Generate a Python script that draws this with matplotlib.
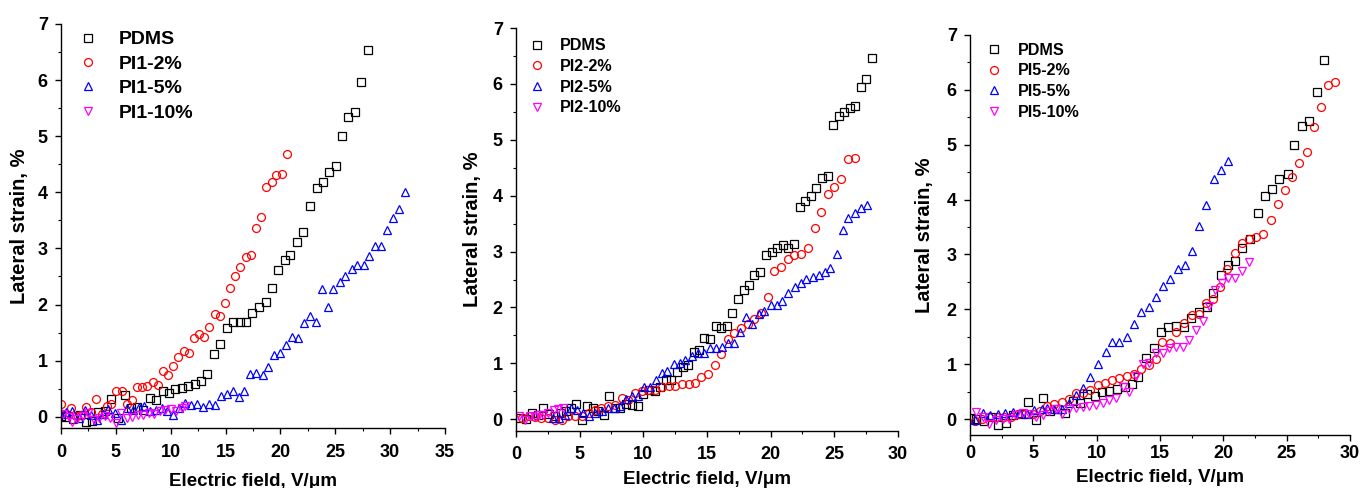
import matplotlib
matplotlib.use("Agg")
import matplotlib.pyplot as plt
from matplotlib.ticker import MultipleLocator

plt.rcParams['font.family'] = ['Liberation Sans', 'DejaVu Sans']
plt.rcParams['font.weight'] = 'bold'
plt.rcParams['axes.labelweight'] = 'bold'

# PDMS reference film (same sample shown in panels a and c)
pdms_x = [0.0, 0.5, 1.1, 1.7, 2.25, 2.85, 3.4, 4.0, 4.6, 5.2, 5.8, 6.35, 6.9, 7.5, 8.1, 8.7, 9.27,
          9.85, 10.4, 11.0, 11.6, 12.2, 12.8, 13.3, 13.9, 14.5, 15.1, 15.65, 16.3, 16.9, 17.45, 18.05,
          18.7, 19.2, 19.8, 20.4, 20.9, 21.5, 22.1, 22.7, 23.3, 23.86, 24.4, 25.08, 25.6, 26.2, 26.8,
          27.36, 27.96]
pdms_y = [0.02, 0.0, -0.04, 0.03, -0.1, -0.07, 0.08, 0.1, 0.32, -0.02, 0.38, 0.15, 0.18, 0.12, 0.33,
          0.30, 0.45, 0.42, 0.50, 0.51, 0.55, 0.59, 0.64, 0.77, 1.12, 1.30, 1.58, 1.68, 1.69, 1.68, 1.84,
          1.95, 2.04, 2.29, 2.62, 2.80, 2.88, 3.12, 3.29, 3.75, 4.07, 4.19, 4.37, 4.46, 5.0, 5.34, 5.43,
          5.96, 6.54]

# PI1 series
pi1_2_x = [0.0, 0.45, 0.9, 1.4, 1.85, 2.3, 2.75, 3.2, 3.7, 4.15, 4.6, 5.05, 5.55, 6.0, 6.47, 6.93, 7.4,
           7.87, 8.36, 8.85, 9.3, 9.79, 10.24, 10.7, 11.19, 11.67, 12.13, 12.58, 13.07, 13.5, 14.0, 14.47,
           14.95, 15.4, 15.87, 16.35, 16.84, 17.3, 17.8, 18.27, 18.7, 19.2, 19.6, 20.1, 20.58]
pi1_2_y = [0.22, 0.05, 0.15, 0.02, 0.03, 0.18, 0.08, 0.31, 0.05, 0.2, 0.23, 0.45, 0.46, 0.22, 0.29, 0.53,
           0.53, 0.55, 0.62, 0.57, 0.82, 0.74, 0.90, 1.07, 1.18, 1.14, 1.41, 1.48, 1.43, 1.60, 1.83, 1.79,
           2.03, 2.29, 2.51, 2.66, 2.85, 2.88, 3.36, 3.56, 4.09, 4.18, 4.30, 4.33, 4.69]
pi1_5_x = [0.0, 0.5, 1.05, 1.6, 2.15, 2.7, 3.25, 3.8, 4.3, 4.9, 5.45, 6.0, 6.55, 7.1, 7.6, 8.15, 8.7, 9.2,
           9.7, 10.2, 10.76, 11.3, 11.85, 12.4, 12.95, 13.5, 14.0, 14.56, 15.1, 15.65, 16.2, 16.7, 17.2,
           17.8, 18.4, 18.9, 19.45, 20.0, 20.5, 21.06, 21.6, 22.16, 22.7, 23.2, 23.77, 24.3, 24.83, 25.4,
           25.9, 26.5, 27.0, 27.57, 28.1, 28.6, 29.2, 29.7, 30.24, 30.8, 31.37]
pi1_5_y = [0.05, 0.08, 0.1, -0.02, 0.12, 0.03, -0.06, 0.05, 0.14, 0.06, -0.06, 0.15, 0.12, 0.18, 0.2, 0.1,
           0.12, 0.16, 0.1, 0.04, 0.16, 0.24, 0.21, 0.22, 0.17, 0.23, 0.21, 0.37, 0.40, 0.46, 0.36, 0.46,
           0.77, 0.78, 0.75, 0.89, 1.10, 1.13, 1.28, 1.43, 1.41, 1.67, 1.79, 1.68, 2.28, 1.95, 2.27, 2.41,
           2.51, 2.64, 2.71, 2.71, 2.86, 3.04, 3.05, 3.33, 3.55, 3.71, 4.0]
pi1_10_x = [0.2, 0.7, 1.0, 1.5, 2.0, 2.5, 3.0, 3.5, 4.0, 4.5, 5.05, 5.5, 6.0, 6.5, 7.0, 7.5, 8.0, 8.5,
            9.0, 9.5, 10.0, 10.5, 11.0, 11.3]
pi1_10_y = [0.05, 0.0, -0.1, -0.04, 0.02, 0.06, -0.05, -0.03, 0.02, -0.02, -0.12, 0.06, -0.02, 0.0, 0.03,
            0.04, 0.06, 0.05, 0.1, 0.12, 0.14, 0.1, 0.16, 0.19]

# PI2 series
pdms2_x = [0.3, 0.8, 1.23, 1.7, 2.15, 2.6, 3.05, 3.5, 3.95, 4.35, 4.74, 5.2, 5.6, 6.05, 6.47, 6.9, 7.33,
           7.8, 8.2, 8.65, 9.1, 9.57, 10.0, 10.45, 10.9, 11.35, 11.8, 12.2, 12.65, 13.1, 13.5, 13.96, 14.4,
           14.8, 15.25, 15.67, 16.1, 16.58, 17.0, 17.47, 17.9, 18.3, 18.73, 19.18, 19.6, 20.07, 20.5, 20.96,
           21.38, 21.82, 22.27, 22.69, 23.13, 23.58, 24.0, 24.47, 24.9, 25.33, 25.75, 26.2, 26.64, 27.06,
           27.5, 27.95]
pdms2_y = [0.03, 0.0, 0.12, 0.08, 0.2, 0.1, 0.05, 0.12, 0.15, 0.2, 0.27, -0.01, 0.24, 0.2, 0.14, 0.08,
           0.41, 0.2, 0.21, 0.28, 0.26, 0.23, 0.45, 0.52, 0.50, 0.58, 0.70, 0.70, 0.85, 0.94, 0.97, 1.21,
           1.24, 1.46, 1.43, 1.66, 1.63, 1.66, 1.90, 2.15, 2.31, 2.41, 2.58, 2.63, 2.93, 2.99, 3.07, 3.12,
           3.06, 3.14, 3.79, 3.91, 3.99, 4.13, 4.31, 4.36, 5.26, 5.42, 5.49, 5.57, 5.61, 5.94, 6.09, 6.46]
pi2_2_x = [0.45, 1.0, 1.5, 2.0, 2.5, 3.07, 3.6, 4.1, 4.6, 5.2, 5.7, 6.2, 6.7, 7.26, 7.8, 8.3, 8.8, 9.35,
           9.9, 10.4, 10.9, 11.45, 12.0, 12.5, 13.0, 13.55, 14.07, 14.57, 15.1, 15.6, 16.14, 16.66, 17.16,
           17.68, 18.2, 18.73, 19.25, 19.78, 20.3, 20.83, 21.35, 21.87, 22.4, 22.9, 23.45, 23.97, 24.5,
           25.0, 25.54, 26.07, 26.6]
pi2_2_y = [0.02, 0.05, 0.04, 0.02, 0.02, -0.01, -0.02, 0.06, 0.05, 0.05, 0.11, 0.16, 0.2, 0.23, 0.26,
           0.38, 0.35, 0.47, 0.50, 0.53, 0.53, 0.57, 0.60, 0.60, 0.63, 0.63, 0.64, 0.75, 0.81, 0.97, 1.16,
           1.43, 1.54, 1.63, 1.71, 1.79, 1.90, 2.18, 2.66, 2.73, 2.86, 2.94, 2.96, 3.07, 3.43, 3.70, 4.03,
           4.15, 4.30, 4.65, 4.67]
pi2_5_x = [2.9, 3.38, 3.85, 4.32, 4.8, 5.27, 5.74, 6.2, 6.73, 7.2, 7.68, 8.15, 8.62, 9.1, 9.56, 10.03,
           10.5, 11.0, 11.45, 11.9, 12.4, 12.86, 13.3, 13.8, 14.28, 14.75, 15.2, 15.7, 16.16, 16.64, 17.1,
           17.58, 18.05, 18.5, 19.05, 19.5, 20.0, 20.46, 20.93, 21.4, 21.9, 22.35, 22.8, 23.3, 23.76,
           24.23, 24.7, 25.2, 25.65, 26.1, 26.6, 27.1, 27.56]
pi2_5_y = [0.02, 0.02, 0.08, 0.2, 0.17, 0.11, 0.05, 0.11, 0.14, 0.2, 0.21, 0.23, 0.36, 0.41, 0.42, 0.58,
           0.58, 0.70, 0.82, 0.87, 0.98, 1.0, 1.06, 1.13, 1.19, 1.19, 1.27, 1.27, 1.29, 1.36, 1.36, 1.56,
           1.83, 1.71, 1.88, 1.93, 2.05, 2.05, 2.12, 2.26, 2.37, 2.43, 2.51, 2.55, 2.58, 2.63, 2.70, 2.95,
           3.39, 3.60, 3.69, 3.78, 3.84]
pi2_10_x = [0.2, 0.7, 1.1, 1.5, 1.8, 2.16, 2.55, 2.95, 3.3, 3.7]
pi2_10_y = [0.05, -0.01, 0.06, 0.04, 0.08, 0.08, 0.11, 0.17, 0.18, 0.2]

# PI5 series
pi5_2_x = [0.4, 0.97, 1.5, 2.1, 2.66, 3.2, 3.8, 4.37, 4.95, 5.5, 6.1, 6.66, 7.24, 7.8, 8.37, 8.95, 9.5,
           10.1, 10.66, 11.24, 11.8, 12.4, 12.97, 13.5, 14.1, 14.68, 15.18, 15.76, 16.3, 16.9, 17.5, 18.05,
           18.6, 19.18, 19.76, 20.3, 20.9, 21.47, 22.05, 22.6, 23.16, 23.74, 24.3, 24.87, 25.45, 26.0,
           26.58, 27.16, 27.7, 28.26, 28.84]
pi5_2_y = [-0.03, 0.01, 0.04, 0.04, 0.03, 0.04, 0.1, 0.09, 0.1, 0.15, 0.24, 0.27, 0.32, 0.36, 0.47, 0.47,
           0.53, 0.62, 0.65, 0.71, 0.74, 0.78, 0.83, 0.92, 0.98, 1.09, 1.40, 1.38, 1.59, 1.75, 1.89, 1.92,
           2.12, 2.19, 2.41, 2.73, 3.03, 3.21, 3.28, 3.32, 3.37, 3.62, 3.92, 4.17, 4.41, 4.67, 4.86, 5.32,
           5.68, 6.08, 6.14]
pi5_5_x = [0.4, 1.05, 1.6, 2.2, 2.76, 3.4, 3.95, 4.5, 5.05, 5.66, 6.1, 6.66, 7.24, 7.8, 8.4, 8.95, 9.5,
           10.1, 10.7, 11.24, 11.8, 12.4, 12.97, 13.5, 14.1, 14.68, 15.24, 15.8, 16.4, 16.97, 17.5, 18.08,
           18.66, 19.24, 19.8, 20.4]
pi5_5_y = [-0.02, 0.12, 0.08, 0.1, 0.12, 0.13, 0.12, 0.1, 0.16, 0.19, 0.21, 0.18, 0.19, 0.29, 0.44, 0.56,
           0.77, 1.0, 1.23, 1.41, 1.41, 1.50, 1.74, 1.96, 2.05, 2.23, 2.42, 2.56, 2.74, 2.81, 3.06, 3.52,
           3.90, 4.37, 4.54, 4.70]
pi5_10_x = [0.47, 1.0, 1.53, 2.05, 2.58, 3.1, 3.63, 4.16, 4.68, 5.2, 5.74, 6.26, 6.8, 7.3, 7.84, 8.37,
            8.9, 9.42, 9.95, 10.47, 11.0, 11.5, 12.05, 12.58, 13.1, 13.63, 14.16, 14.7, 15.2, 15.74, 16.24,
            16.8, 17.3, 17.87, 18.37, 18.87, 19.34, 19.87, 20.4, 20.9, 21.47, 22.05]
pi5_10_y = [0.13, 0.04, -0.09, -0.01, 0.01, 0.01, 0.07, 0.12, 0.10, 0.03, 0.07, 0.15, 0.18, 0.1, 0.19,
            0.21, 0.22, 0.24, 0.26, 0.29, 0.35, 0.38, 0.59, 0.50, 0.78, 1.01, 1.03, 1.20, 1.21, 1.29, 1.32,
            1.32, 1.44, 1.63, 1.79, 2.06, 2.36, 2.48, 2.57, 2.58, 2.70, 2.87]

styles = [('s', 'black'), ('o', '#ff0000'), ('^', '#0000ff'), ('v', '#ff00ff')]

panels = [
    dict(rect=[0.0448, 0.123, 0.2822, 0.828], xmax=35, ymin=-0.2,
         xpad=7.0, xlpad=9.0, ylpad=6.0, legfs=14.0, legpad=1.1, leg=(0.0504, 0.957),
         series=[(pdms_x, pdms_y, 'PDMS'), (pi1_2_x, pi1_2_y, 'PI1-2%'),
                 (pi1_5_x, pi1_5_y, 'PI1-5%'), (pi1_10_x, pi1_10_y, 'PI1-10%')]),
    dict(rect=[0.3791, 0.1168, 0.2807, 0.8258], xmax=30, ymin=-0.21,
         xpad=6.5, xlpad=5.5, ylpad=7.5, legfs=11.6, legpad=0.95, leg=(0.3824, 0.938),
         series=[(pdms2_x, pdms2_y, 'PDMS'), (pi2_2_x, pi2_2_y, 'PI2-2%'),
                 (pi2_5_x, pi2_5_y, 'PI2-5%'), (pi2_10_x, pi2_10_y, 'PI2-10%')]),
    dict(rect=[0.7127, 0.1086, 0.2792, 0.8197], xmax=30, ymin=-0.29,
         xpad=3.0, xlpad=4.5, ylpad=9.0, legfs=11.6, legpad=0.95, leg=(0.7186, 0.929),
         series=[(pdms_x, pdms_y, 'PDMS'), (pi5_2_x, pi5_2_y, 'PI5-2%'),
                 (pi5_5_x, pi5_5_y, 'PI5-5%'), (pi5_10_x, pi5_10_y, 'PI5-10%')]),
]

fig = plt.figure(figsize=(13.61, 4.88), dpi=100)

for p in panels:
    ax = fig.add_axes(p['rect'])
    for (x, y, name), (mk, col) in zip(p['series'], styles):
        ax.plot(x, y, ls='none', marker=mk, ms=5.7, mfc='none', mec=col, mew=0.9, label=name)
    ax.set_xlim(0, p['xmax'])
    ax.set_ylim(p['ymin'], 7)
    ax.xaxis.set_major_locator(MultipleLocator(5))
    ax.xaxis.set_minor_locator(MultipleLocator(2.5))
    ax.yaxis.set_major_locator(MultipleLocator(1))
    ax.yaxis.set_minor_locator(MultipleLocator(0.5))
    ax.spines['top'].set_visible(False)
    ax.spines['right'].set_visible(False)
    for s in ('left', 'bottom'):
        ax.spines[s].set_linewidth(1.0)
    ax.tick_params(which='major', direction='out', length=4.5, width=1.0, labelsize=13)
    ax.tick_params(which='minor', direction='out', length=2.5, width=0.8)
    ax.tick_params(axis='x', which='major', pad=p['xpad'])
    ax.tick_params(axis='y', which='major', pad=5)
    ax.set_xlabel('Electric field, V/\u03bcm', fontsize=13.5, labelpad=p['xlpad'])
    ax.set_ylabel('Lateral strain, %', fontsize=14.5, labelpad=p['ylpad'])
    ax.legend(loc='upper left', bbox_to_anchor=p['leg'], bbox_transform=fig.transFigure,
              frameon=False, numpoints=1, handlelength=1.0, handletextpad=p['legpad'],
              labelspacing=0.35, borderpad=0, prop=dict(size=p['legfs'], weight='bold'))

fig.savefig('out.png', dpi=100)
